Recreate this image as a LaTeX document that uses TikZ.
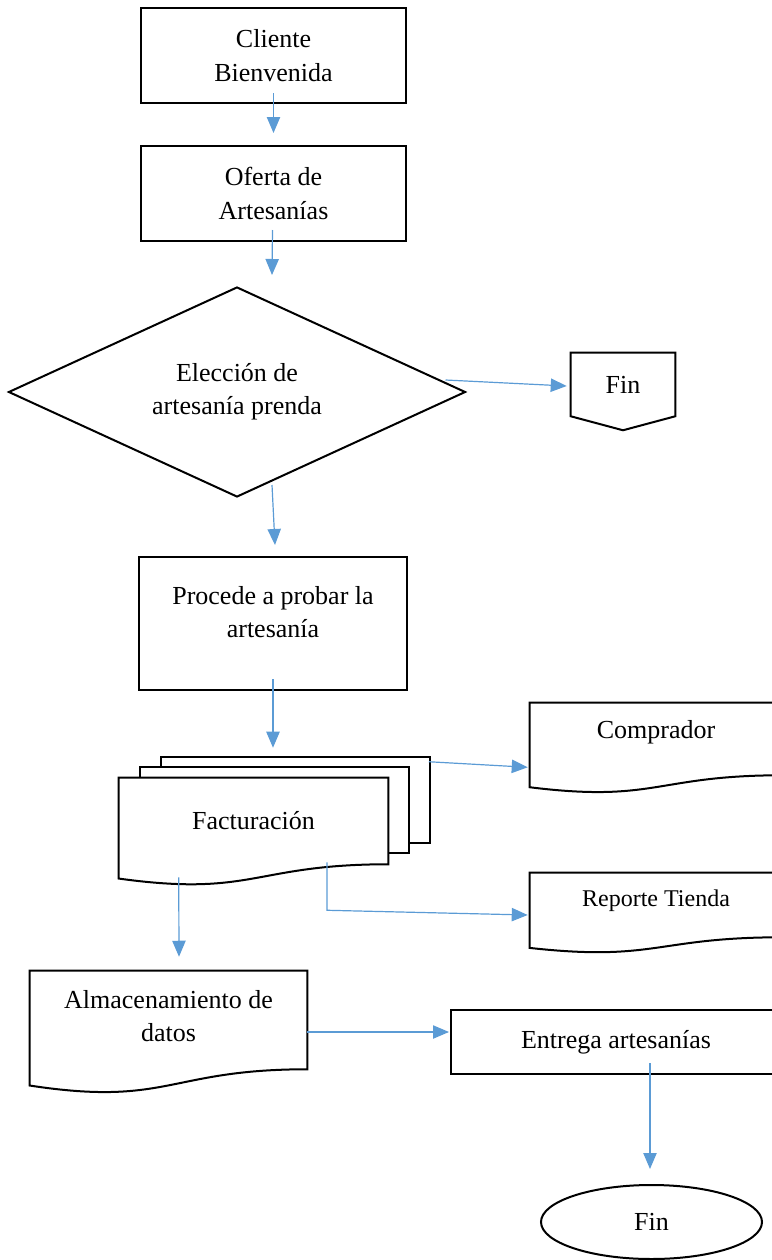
\documentclass[tikz,border=0pt]{standalone}
\usepackage{fontspec}
\setmainfont{Liberation Serif}
\usepackage{tikz}
\usetikzlibrary{arrows.meta,positioning,shapes.geometric,calc}
\definecolor{flowblue}{HTML}{5B9BD5}
\def\px{0.75pt}
\tikzset{
  shapeline/.style={draw=black, line width=1.5pt},
  flowarrow/.style={-{Triangle[length=12pt,width=10pt]}, color=flowblue, line width=0.9pt}
}
% document outline round a text rectangle (right side = rectangle height)
\newcommand{\docoutline}[1]{%
  \draw[shapeline] ($(#1.north west)!1.165!(#1.south west)$) -- (#1.north west)
    -- (#1.north east) -- (#1.south east)
    .. controls (#1.south) and ($(#1.north)!1.381!(#1.south)$) .. cycle;}

\begin{document}
\begin{tikzpicture}[x=0.75pt, y=-0.75pt,
    every node/.style={font=\fontsize{19.5}{25}\selectfont, align=center, inner sep=0pt},
    procbox/.style={shapeline, rectangle},
    decbox/.style={shapeline, diamond, aspect=2.2},
    docbox/.style={rectangle},
    endbox/.style={shapeline, ellipse}
  ]
  \useasboundingbox (0,0) rectangle (771,1260);

  % main column
  \node[procbox, minimum width=265*\px, minimum height=95*\px] (cli) at (273.5,55.5) {Cliente\\Bienvenida};
  \node[procbox, minimum width=265*\px, minimum height=95*\px] (ofe) at (273.5,193.5) {Oferta de\\Artesanías};
  \node[decbox, minimum width=457*\px, minimum height=210*\px] (dec) at (237,392) {Elección de\\artesanía prenda};
  \node[procbox, minimum width=268*\px, minimum height=133*\px, text depth=17pt] (proc) at (273,623.5) {Procede a probar la\\artesanía};

  % off-page end
  \node[minimum width=104*\px, minimum height=63*\px] (finA) at (623,384.5) {Fin};
  \draw[shapeline] (finA.south west) -- (finA.north west) -- (finA.north east)
    -- (finA.south east) -- ($(finA.south)+(0,14)$) -- cycle;

  % documents
  \node[docbox, minimum width=269*\px, minimum height=86*\px] (fact) at (253.5,821) {Facturación};
  \docoutline{fact}
  \draw[shapeline] ($(fact.north west)+(21,0)$) -- ++(0,-11) -- ($(fact.north east)+(21,-11)$)
    -- ($(fact.south east)+(21,-11)$) -- ($(fact.south east)+(0,-11)$);
  \draw[shapeline] ($(fact.north west)+(42,-11)$) -- ++(0,-10) -- ($(fact.north east)+(42,-21)$)
    -- ($(fact.south east)+(42,-21)$) -- ($(fact.south east)+(21,-21)$);

  \node[docbox, minimum width=252*\px, minimum height=72*\px, text depth=14.5pt] (comp) at (656,739) {Comprador};
  \docoutline{comp}
  \node[docbox, minimum width=252*\px, minimum height=64*\px, text depth=10pt,
        font=\fontsize{18}{23}\selectfont] (rep) at (656,905) {Reporte Tienda};
  \docoutline{rep}
  \node[docbox, minimum width=277*\px, minimum height=98*\px, text depth=6pt] (alm) at (168.5,1020) {Almacenamiento de\\datos};
  \docoutline{alm}

  \node[procbox, minimum width=330*\px, minimum height=64*\px] (ent) at (616,1042) {Entrega artesanías};
  \node[endbox, minimum width=221*\px, minimum height=74*\px] (finB) at (651.5,1222) {Fin};

  % connectors
  \draw[flowarrow] ($(cli.south)+(0,-11)$) -- ($(ofe.north)+(0,-12)$);
  \draw[flowarrow] ($(ofe.south)+(-1,-12)$) -- ($(dec.north)+(35,-11)$);
  \draw[flowarrow] ($(dec.east)+(-21,-12)$) -- ($(finA.west)+(-4,1.5)$);
  \draw[flowarrow] ($(dec.south)+(35,-13)$) -- ($(proc.north)+(2,-11)$);
  \draw[flowarrow] ($(proc.south)+(0,-12)$) -- ($(fact.north)+(19.5,-30)$);
  \draw[flowarrow] ($(fact.north east)+(40.5,-16)$) -- ($(comp.south west)+(-2,-8)$);
  \draw[flowarrow] ($(fact.south)+(73.5,-2)$) -- ++(0,48) -- ($(rep.west)+(-2,10)$);
  \draw[flowarrow] ($(fact.south west)+(60,13)$) -- ($(alm.north)+(10.5,-14)$);
  \draw[flowarrow] ($(alm.east)+(0,12)$) -- ($(ent.west)+(-1,-10)$);
  \draw[flowarrow] ($(ent.south)+(34,-12)$) -- ($(finB.north)+(-1.5,-15)$);
\end{tikzpicture}
\end{document}
